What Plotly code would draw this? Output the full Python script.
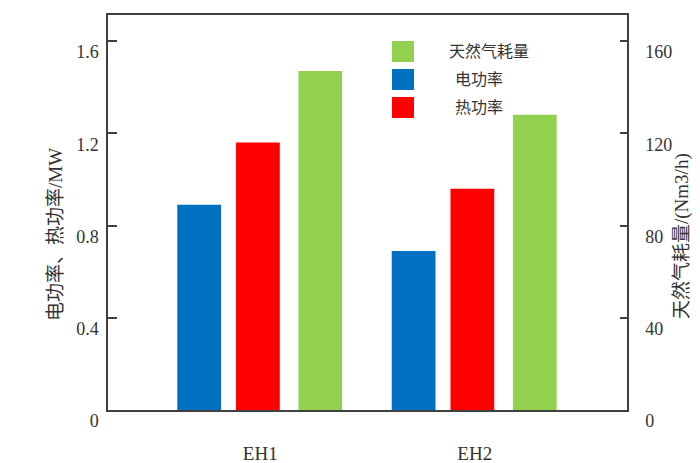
import plotly.graph_objects as go

categories = ["EH1", "EH2"]
elec_power = [0.89, 0.69]      # MW
heat_power = [1.16, 0.96]      # MW
gas_use = [147, 128]           # Nm3/h
left_ticks = [0, 0.4, 0.8, 1.2, 1.6]
left_labels = ["0", "0.4", "0.8", "1.2", "1.6"]
right_ticks = [0, 40, 80, 120, 160]
right_labels = ["0", "40", "80", "120", "160"]

BLUE, RED, GREEN = "#0070C0", "#FF0000", "#92D050"
AX = "#404040"
TXT = "#333333"
FONT = "Liberation Serif, Noto Sans CJK SC, serif"

# the page body adds an 8px margin, so the figure is 8px smaller and shifted
W, H = 692, 455
PL, PR, PT, PB = 100, 619, 7, 402   # plot area in figure pixels
PW, PH = PR - PL, PB - PT

def px(xs):  # screen x -> paper
    return (xs - 8 - PL) / PW

def py(ys):  # screen y -> paper
    return (PB - (ys - 8)) / PH

fig = go.Figure()
bw = 0.204
fig.add_trace(go.Bar(x=categories, y=elec_power, name="电功率", marker=dict(color=BLUE, line=dict(width=0)),
                     width=bw, offset=-0.387, yaxis="y", showlegend=False))
fig.add_trace(go.Bar(x=categories, y=heat_power, name="热功率", marker=dict(color=RED, line=dict(width=0)),
                     width=bw, offset=-0.113, yaxis="y", showlegend=False))
fig.add_trace(go.Bar(x=categories, y=gas_use, name="天然气耗量", marker=dict(color=GREEN, line=dict(width=0)),
                     width=bw, offset=0.178, yaxis="y2", showlegend=False))

ymax = 1.713
fig.update_layout(
    width=W, height=H,
    margin=dict(l=PL, r=W - PR, t=PT, b=H - PB, autoexpand=False),
    plot_bgcolor="white", paper_bgcolor="white",
    barmode="overlay",
    font=dict(family=FONT, size=18, color=TXT),
    xaxis=dict(type="category", range=[-0.71, 1.71], showline=True, linecolor=AX, linewidth=1.5,
               mirror=True, ticks="", showgrid=False, ticklabelstandoff=25, automargin=False,
               tickfont=dict(family=FONT, size=19, color=TXT)),
    yaxis=dict(range=[0, ymax], tickvals=left_ticks, ticktext=left_labels, showline=True,
               linecolor=AX, linewidth=1.5, ticks="inside", ticklen=9, tickcolor=AX, tickwidth=1.5,
               showgrid=False, zeroline=False, ticklabelstandoff=4, ticklabelshift=11, automargin=False,
               tickfont=dict(family=FONT, size=18, color=TXT)),
    yaxis2=dict(range=[0, ymax * 100], tickvals=right_ticks, ticktext=right_labels, overlaying="y",
                side="right", showline=True, linecolor=AX, linewidth=1.5, ticks="inside", ticklen=7,
                tickcolor=AX, tickwidth=1.5, showgrid=False, zeroline=False, ticklabelstandoff=13,
                ticklabelshift=11, automargin=False, tickfont=dict(family=FONT, size=18, color=TXT)),
)

# axis titles
fig.add_annotation(text="电功率、热功率/MW", xref="paper", yref="paper", x=px(55), y=py(235),
                   textangle=-90, showarrow=False,
                   font=dict(family=FONT, size=19, color=TXT), xanchor="center", yanchor="middle")
fig.add_annotation(text="天然气耗量/(Nm3/h)", xref="paper", yref="paper", x=px(682), y=py(236),
                   textangle=-90, showarrow=False,
                   font=dict(family=FONT, size=19, color=TXT), xanchor="center", yanchor="middle")

# manual legend
legend_items = [("天然气耗量", GREEN, 41, 447), ("电功率", BLUE, 69, 453), ("热功率", RED, 97, 453)]
for label, col, top, tx in legend_items:
    fig.add_shape(type="rect", xref="paper", yref="paper",
                  x0=px(392), x1=px(414), y0=py(top + 21), y1=py(top),
                  fillcolor=col, line=dict(width=0))
    fig.add_annotation(text=label, xref="paper", yref="paper", x=px(tx), y=py(top + 10.5),
                       showarrow=False, xanchor="left", yanchor="middle",
                       font=dict(family=FONT, size=16, color=TXT))

fig.write_html("out.html")
